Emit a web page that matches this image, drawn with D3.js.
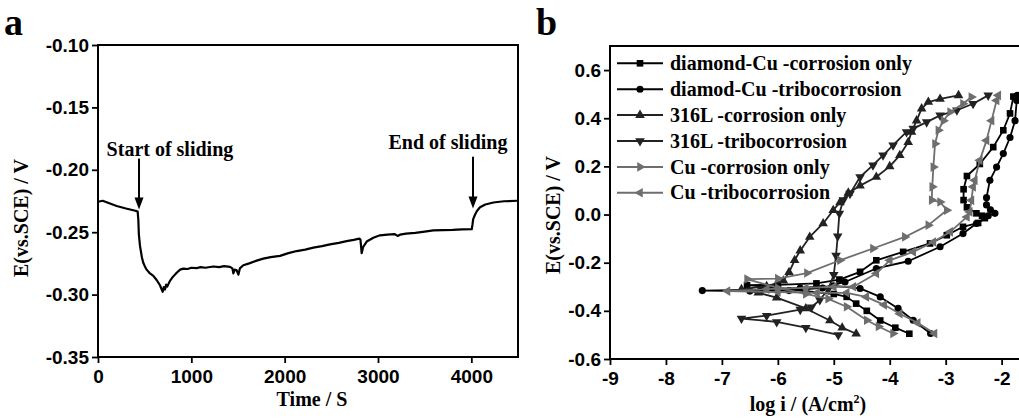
<!DOCTYPE html>
<html><head><meta charset="utf-8">
<script src="https://cdn.jsdelivr.net/npm/d3@7"></script>
<style>body{margin:0;background:#fff}svg{display:block}</style>
</head><body>
<svg id="c" width="1019" height="419"></svg>
<script>
// ---------- Panel a data (open-circuit potential vs time) ----------
const timeA = [0,50,100,200,300,400,425,432,438,450,470,485,500,521,550,593,630,664,693,705,718,730,742,771,800,843,880,914,960,1000,1057,1100,1150,1236,1300,1350,1414,1440,1450,1465,1486,1504,1520,1557,1620,1700,1771,1850,1950,2040,2129,2220,2307,2400,2486,2580,2664,2740,2800,2812,2825,2840,2879,2950,3021,3100,3180,3210,3236,3300,3400,3500,3593,3700,3800,3900,4004,4012,4020,4039,4060,4093,4150,4236,4350,4500];
const potentialA = [-0.2256,-0.2248,-0.2262,-0.2290,-0.2310,-0.2328,-0.2335,-0.2400,-0.2520,-0.2610,-0.2700,-0.2745,-0.2770,-0.2800,-0.2825,-0.2850,-0.2885,-0.2925,-0.2978,-0.2940,-0.2960,-0.2920,-0.2935,-0.2890,-0.2860,-0.2825,-0.2800,-0.2792,-0.2795,-0.2785,-0.2788,-0.2780,-0.2785,-0.2775,-0.2780,-0.2772,-0.2778,-0.2790,-0.2830,-0.2800,-0.2805,-0.2840,-0.2790,-0.2765,-0.2750,-0.2728,-0.2712,-0.2700,-0.2690,-0.2668,-0.2651,-0.2640,-0.2624,-0.2612,-0.2597,-0.2585,-0.2571,-0.2562,-0.2552,-0.2560,-0.2668,-0.2620,-0.2575,-0.2545,-0.2525,-0.2520,-0.2515,-0.2530,-0.2520,-0.2512,-0.2505,-0.2495,-0.2486,-0.2484,-0.2482,-0.2478,-0.2476,-0.2440,-0.2395,-0.2360,-0.2330,-0.2300,-0.2278,-0.2262,-0.2252,-0.2248];
const annotationLabels = ["Start of sliding", "End of sliding"];
const annotationTimes = [439, 4018];
const xTicksA = [0,1000,2000,3000,4000];
const yTicksA = [-0.35,-0.30,-0.25,-0.20,-0.15,-0.10];

// ---------- Panel b data (polarization curves: [log i, E]) ----------
const diamondCuCorrosion = [[-3.65,-0.495],[-3.9,-0.47],[-4.17,-0.44],[-4.41,-0.40],[-4.6,-0.37],[-4.77,-0.342],[-5.0,-0.33],[-5.5,-0.318],[-6.0,-0.305],[-6.55,-0.293],[-6.0,-0.292],[-5.31,-0.286],[-4.9,-0.27],[-4.53,-0.238],[-4.24,-0.19],[-3.76,-0.155],[-3.28,-0.12],[-2.98,-0.086],[-2.69,-0.051],[-2.42,-0.035],[-2.3,-0.015],[-2.35,-0.005],[-2.45,0.005],[-2.62,0.03],[-2.68,0.06],[-2.68,0.105],[-2.62,0.16],[-2.39,0.21],[-2.15,0.28],[-1.97,0.35],[-1.85,0.42],[-1.79,0.49]];
const diamondCuTribo = [[-3.27,-0.494],[-3.58,-0.439],[-3.85,-0.39],[-4.17,-0.342],[-4.53,-0.307],[-5.01,-0.296],[-5.6,-0.305],[-6.3,-0.312],[-7.35,-0.316],[-6.5,-0.318],[-5.8,-0.316],[-5.2,-0.305],[-4.8,-0.28],[-4.24,-0.224],[-3.67,-0.194],[-3.10,-0.134],[-2.69,-0.079],[-2.45,-0.037],[-2.24,-0.005],[-2.12,0.005],[-2.2,0.02],[-2.27,0.04],[-2.27,0.07],[-2.21,0.142],[-2.09,0.197],[-1.97,0.253],[-1.85,0.32],[-1.76,0.39],[-1.73,0.474],[-1.72,0.495]];
const steel316LCorrosion = [[-4.6,-0.495],[-4.85,-0.47],[-5.07,-0.44],[-5.5,-0.39],[-6.02,-0.345],[-6.35,-0.325],[-6.65,-0.31],[-6.2,-0.298],[-5.9,-0.275],[-5.8,-0.24],[-5.7,-0.19],[-5.6,-0.15],[-5.43,-0.093],[-5.19,-0.037],[-5.01,0.018],[-4.89,0.05],[-4.74,0.09],[-4.53,0.12],[-4.24,0.156],[-4.0,0.20],[-3.82,0.246],[-3.67,0.30],[-3.61,0.343],[-3.52,0.39],[-3.43,0.44],[-3.31,0.467],[-3.10,0.48],[-2.77,0.495]];
const steel316LTribo = [[-4.92,-0.50],[-5.5,-0.47],[-6.02,-0.446],[-6.65,-0.432],[-6.2,-0.42],[-5.6,-0.395],[-5.4,-0.385],[-5.25,-0.355],[-5.1,-0.31],[-5.0,-0.25],[-4.96,-0.17],[-4.93,-0.09],[-4.9,0.004],[-4.83,0.06],[-4.71,0.087],[-4.53,0.156],[-4.30,0.205],[-4.12,0.246],[-3.94,0.288],[-3.70,0.343],[-3.58,0.357],[-3.34,0.384],[-3.10,0.412],[-2.80,0.433],[-2.51,0.46],[-2.24,0.495]];
const cuCorrosion = [[-3.94,-0.494],[-4.2,-0.465],[-4.41,-0.439],[-4.77,-0.383],[-5.1,-0.35],[-5.5,-0.33],[-6.0,-0.305],[-6.55,-0.268],[-6.0,-0.266],[-5.48,-0.243],[-4.89,-0.19],[-4.30,-0.141],[-3.73,-0.093],[-3.31,-0.044],[-2.98,0.018],[-3.10,0.052],[-3.25,0.06],[-3.24,0.115],[-3.22,0.197],[-3.19,0.294],[-3.13,0.35],[-3.04,0.39],[-2.92,0.426],[-2.69,0.46],[-2.54,0.488]];
const cuTribo = [[-3.2,-0.494],[-3.5,-0.45],[-3.82,-0.412],[-4.1,-0.375],[-4.42,-0.342],[-4.77,-0.325],[-5.3,-0.325],[-6.0,-0.322],[-6.9,-0.318],[-6.2,-0.31],[-5.5,-0.305],[-5.0,-0.30],[-4.65,-0.30],[-4.24,-0.245],[-4.0,-0.19],[-3.58,-0.155],[-3.22,-0.114],[-2.92,-0.072],[-2.62,-0.01],[-2.57,0.011],[-2.54,0.059],[-2.51,0.115],[-2.48,0.142],[-2.39,0.225],[-2.27,0.308],[-2.18,0.39],[-2.09,0.474],[-2.06,0.495]];
const seriesNames = ["diamond-Cu -corrosion only","diamod-Cu -tribocorrosion","316L -corrosion only","316L -tribocorrosion","Cu -corrosion only","Cu -tribocorrosion"];
const seriesData = [diamondCuCorrosion, diamondCuTribo, steel316LCorrosion, steel316LTribo, cuCorrosion, cuTribo];
const xTicksB = [-9,-8,-7,-6,-5,-4,-3,-2];
const yTicksB = [-0.6,-0.4,-0.2,0.0,0.2,0.4,0.6];

// ---------- styles ----------
const SANS = "'Liberation Sans', Arial, sans-serif";
const SERIF = "'Liberation Serif', 'Times New Roman', serif";
const colors = ["#000","#000","#222","#222","#6e6e6e","#6e6e6e"];
const shapes = ["square","circle","up","down","right","left"];

const svg = d3.select("#c");

function axes(g, x, y, xMaj, xMin, yMaj, yMin, xf, yf) {
  const ax = g.append("g").attr("transform", `translate(0,${y.range()[0]})`);
  ax.call(d3.axisBottom(x).tickValues(xMin).tickSize(3).tickFormat("").tickSizeOuter(0));
  ax.call(d3.axisBottom(x).tickValues(xMaj).tickSize(6).tickPadding(7).tickFormat(xf).tickSizeOuter(0));
  const ay = g.append("g").attr("transform", `translate(${x.range()[0]},0)`);
  ay.call(d3.axisLeft(y).tickValues(yMin).tickSize(3).tickFormat("").tickSizeOuter(0));
  ay.call(d3.axisLeft(y).tickValues(yMaj).tickSize(6).tickPadding(3).tickFormat(yf).tickSizeOuter(0));
  g.selectAll(".domain").remove();
  g.selectAll(".tick line").attr("stroke","#000").attr("stroke-width",1.8);
  g.selectAll(".tick text").attr("font-family",SANS).attr("font-weight","bold").attr("font-size",19).attr("fill","#000");
  g.append("rect").attr("x",x.range()[0]).attr("y",y.range()[1])
    .attr("width",x.range()[1]-x.range()[0]).attr("height",y.range()[0]-y.range()[1])
    .attr("fill","none").attr("stroke","#000").attr("stroke-width",2);
}

// ---------- Panel a ----------
const xA = d3.scaleLinear().domain([0,4500]).range([98,518]);
const yA = d3.scaleLinear().domain([-0.35,-0.10]).range([357,45]);
const gA = svg.append("g");
axes(gA, xA, yA, xTicksA, d3.range(500,4501,1000), yTicksA, d3.range(-0.325,-0.10,0.05),
  d => String(d), d => d.toFixed(2));
gA.append("path").datum(d3.range(timeA.length))
  .attr("d", d3.line().x(i=>xA(timeA[i])).y(i=>yA(potentialA[i])))
  .attr("fill","none").attr("stroke","#000").attr("stroke-width",2.2).attr("stroke-linejoin","round");
// annotations
const arrowTopE = [-0.191,-0.1895], arrowTipE = [-0.2318,-0.231];
const labelT = [771, 3750], labelE = [-0.1887, -0.1831];
annotationTimes.forEach((t,i) => {
  const x = xA(t), y0 = yA(arrowTopE[i]), y1 = yA(arrowTipE[i]);
  gA.append("line").attr("x1",x).attr("x2",x).attr("y1",y0).attr("y2",y1-8).attr("stroke","#000").attr("stroke-width",2);
  gA.append("path").attr("d",`M${x-4.5},${y1-12}L${x+4.5},${y1-12}L${x},${y1}Z`).attr("fill","#000");
  gA.append("text").attr("x",xA(labelT[i])).attr("y",yA(labelE[i])).attr("text-anchor","middle")
    .attr("font-family",SERIF).attr("font-weight","bold").attr("font-size",20).text(annotationLabels[i]);
});
gA.append("text").attr("x",312).attr("y",406).attr("text-anchor","middle")
  .attr("font-family",SERIF).attr("font-weight","bold").attr("font-size",20).text("Time / S");
gA.append("text").attr("transform","translate(28,218) rotate(-90)").attr("text-anchor","middle")
  .attr("font-family",SERIF).attr("font-weight","bold").attr("font-size",20).text("E(vs.SCE) / V");
svg.append("text").attr("x",4).attr("y",35).attr("font-family",SERIF).attr("font-weight","bold").attr("font-size",38).text("a");

// ---------- Panel b ----------
const xB = d3.scaleLinear().domain([-9,-1.5]).range([610,1029.6]);
const yB = d3.scaleLinear().domain([-0.6,0.7]).range([359,46]);
const gB = svg.append("g");
axes(gB, xB, yB, xTicksB, d3.range(-8.5,-1.4,1), yTicksB, d3.range(-0.5,0.71,0.2),
  d => String(d), d => d.toFixed(1));

function marker(shape, size) {
  const s = {square:d3.symbolSquare, circle:d3.symbolCircle}[shape] || d3.symbolTriangle;
  return d3.symbol().type(s).size(size)();
}
const rot = {up:0, down:180, right:90, left:-90, square:0, circle:0};
const msize = {square:44, circle:40, up:40, down:40, right:40, left:40};

seriesData.forEach((data,k) => {
  const g = gB.append("g");
  g.append("path").datum(data)
    .attr("d", d3.line().x(d=>xB(d[0])).y(d=>yB(d[1])))
    .attr("fill","none").attr("stroke",colors[k]).attr("stroke-width",1.8).attr("stroke-linejoin","round");
  g.selectAll("path.m").data(data).enter().append("path").attr("class","m")
    .attr("d", marker(shapes[k], msize[shapes[k]]))
    .attr("transform", d => `translate(${xB(d[0])},${yB(d[1])}) rotate(${rot[shapes[k]]})`)
    .attr("fill",colors[k]);
});

// legend
seriesNames.forEach((name,k) => {
  const y = 63.3 + k*25.9;
  const g = gB.append("g");
  g.append("line").attr("x1",617).attr("x2",663).attr("y1",y).attr("y2",y).attr("stroke",colors[k]).attr("stroke-width",2);
  g.append("path").attr("d", marker(shapes[k], msize[shapes[k]])).attr("transform",`translate(640,${y}) rotate(${rot[shapes[k]]})`).attr("fill",colors[k]);
  g.append("text").attr("x",670).attr("y",y).attr("dy","0.33em")
    .attr("font-family",SERIF).attr("font-weight","bold").attr("font-size",20).text(name);
});

const tB = gB.append("text").attr("x",808).attr("y",411).attr("text-anchor","middle")
  .attr("font-family",SERIF).attr("font-weight","bold").attr("font-size",20);
tB.append("tspan").text("log i / (A/cm");
tB.append("tspan").attr("font-size",12).attr("dy",-8).text("2");
tB.append("tspan").attr("dy",8).text(")");
gB.append("text").attr("transform","translate(560,215) rotate(-90)").attr("text-anchor","middle")
  .attr("font-family",SERIF).attr("font-weight","bold").attr("font-size",20).text("E(vs.SCE) / V");
svg.append("text").attr("x",536).attr("y",35).attr("font-family",SERIF).attr("font-weight","bold").attr("font-size",38).text("b");
</script>
</body></html>
